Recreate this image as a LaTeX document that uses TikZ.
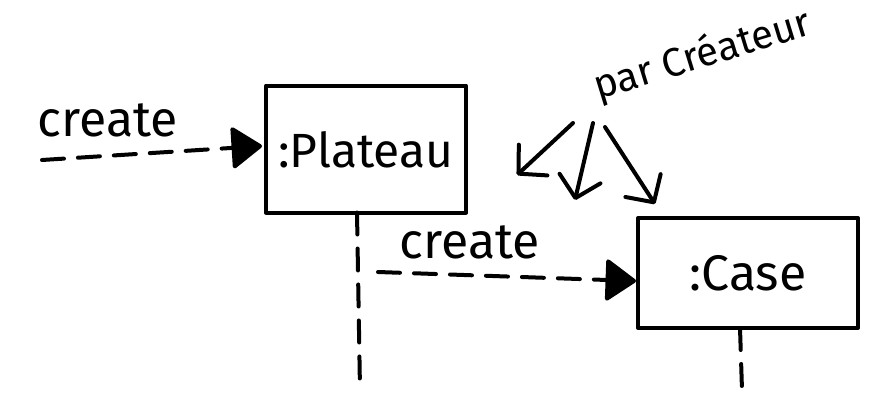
\documentclass[tikz,border=0pt]{standalone}
\usepackage{fontspec}
\setmainfont{Fira Sans}
\usetikzlibrary{arrows.meta}
\begin{document}
\begin{tikzpicture}[x=1pt,y=-1pt,
  ink/.style={line width=4pt,line cap=round,line join=round},
  objbox/.style={draw,ink,inner sep=0pt},
  msg/.style={ink,dash pattern=on 22pt off 14pt,-{Triangle[length=32pt,width=44pt,round]}},
  life/.style={ink,dash pattern=on 22pt off 14pt},
  note/.style={ink,-{Straight Barb[length=20pt,width=42pt,round]}},
  lbl/.style={inner sep=0pt,font=\fontsize{50}{54}\selectfont}]
\useasboundingbox (0,0) rectangle (869,418);
% objects
\node[objbox,minimum width=200pt,minimum height=127pt] (plateau) at (366,149) {};
\node[lbl,font=\fontsize{48}{52}\selectfont] (plateautxt) at (366,150) {:Plateau};
\node[objbox,minimum width=220pt,minimum height=110pt] (case) at (748,273) {};
\node[lbl] (casetxt) at (748,273) {:Case};
% lifelines
\coordinate (pl0) at (357,212.5);
\coordinate (pl1) at (360,390);
\draw[life] (pl0) -- (pl1);
\coordinate (cl0) at (740,328);
\coordinate (cl1) at (742,390);
\draw[life] (cl0) -- (cl1);
% create messages
\coordinate (m1s) at (42,160);
\coordinate (m1e) at (262,146);
\draw[msg] (m1s) -- (m1e);
\node[lbl,anchor=base] (create1) at (108,136) {create};
\coordinate (m2s) at (378,272);
\coordinate (m2e) at (636,281);
\draw[msg] (m2s) -- (m2e);
\node[lbl,anchor=base] (create2) at (470,258) {create};
% note
\node[lbl,font=\fontsize{40}{44}\selectfont,rotate=17,anchor=base west] (par) at (598,100) {par Créateur};
\coordinate (a1s) at (573,123);
\coordinate (a1e) at (517,175);
\coordinate (a2s) at (593,123);
\coordinate (a2e) at (575,200);
\coordinate (a3s) at (605,127);
\coordinate (a3e) at (655,204);
\draw[note] (a1s) -- (a1e);
\draw[note] (a2s) -- (a2e);
\draw[note] (a3s) -- (a3e);
\end{tikzpicture}
\end{document}
